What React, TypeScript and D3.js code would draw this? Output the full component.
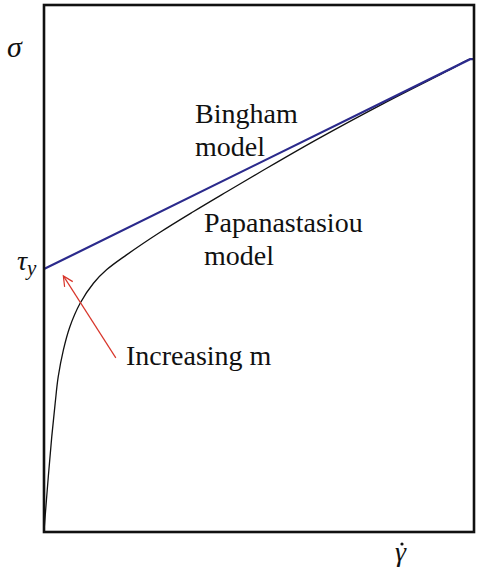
import React, { useEffect, useRef } from "react";
import * as d3 from "d3";

// Shear rate (normalised) and shear stress (normalised) for the two models
const binghamGamma = [0, 0.991, 1.0];
const binghamSigma = [0.498, 0.897, 0.897];

const papaGamma = [0, 0.01, 0.018, 0.026, 0.033, 0.045, 0.06, 0.084, 0.115, 0.146, 0.192, 0.27, 0.347, 0.425, 0.502, 0.634, 0.788, 0.944, 0.991, 1.0];
const papaSigma = [0, 0.103, 0.179, 0.243, 0.293, 0.344, 0.388, 0.433, 0.471, 0.497, 0.525, 0.568, 0.607, 0.645, 0.682, 0.744, 0.812, 0.877, 0.897, 0.897];

// Annotation arrow: tail and tip in data units
const arrowTail = [0.167, 0.329];
const arrowTip = [0.045, 0.485];

// Text labels: [text, x, y]
const modelLabels: [string, number, number][] = [
  ["Bingham", 195, 123],
  ["model", 195, 156],
  ["Papanastasiou", 204, 232],
  ["model", 204, 265],
  ["Increasing m", 126, 365],
];

const W = 478;
const H = 571;
const SERIF = '"Liberation Serif", "Times New Roman", Times, serif';

export default function App() {
  const ref = useRef<SVGSVGElement | null>(null);

  useEffect(() => {
    const svg = d3.select(ref.current);
    svg.selectAll("*").remove();

    const x = d3.scaleLinear().domain([0, 1]).range([44, 474]);
    const y = d3.scaleLinear().domain([0, 1]).range([531, 5]);

    svg.append("rect").attr("width", W).attr("height", H).attr("fill", "#fff");

    const line = d3
      .line<[number, number]>()
      .x((d) => x(d[0]))
      .y((d) => y(d[1]));
    const smooth = d3
      .line<[number, number]>()
      .x((d) => x(d[0]))
      .y((d) => y(d[1]))
      .curve(d3.curveCatmullRom.alpha(0.5));

    const bingham = binghamGamma.map((g, i) => [g, binghamSigma[i]] as [number, number]);
    const papa = papaGamma.map((g, i) => [g, papaSigma[i]] as [number, number]);

    // Papanastasiou curve
    svg.append("path").attr("d", smooth(papa)).attr("fill", "none").attr("stroke", "#111").attr("stroke-width", 1.3);
    // Bingham line
    svg.append("path").attr("d", line(bingham)).attr("fill", "none").attr("stroke", "#2b2a8c").attr("stroke-width", 2.2);

    // Frame
    const [x0, x1] = x.range();
    const [yb, yt] = y.range();
    svg
      .append("rect")
      .attr("x", x0)
      .attr("y", yt)
      .attr("width", x1 - x0)
      .attr("height", yb - yt + 1)
      .attr("fill", "none")
      .attr("stroke", "#111")
      .attr("stroke-width", 2.6);

    // Arrow
    const tx = x(arrowTip[0]);
    const ty = y(arrowTip[1]);
    const sx = x(arrowTail[0]);
    const sy = y(arrowTail[1]);
    const ang = Math.atan2(ty - sy, tx - sx);
    const headLen = 11;
    const spread = (26 * Math.PI) / 180;
    svg.append("line").attr("x1", sx).attr("y1", sy).attr("x2", tx).attr("y2", ty).attr("stroke", "#d8352a").attr("stroke-width", 1.2);
    svg
      .append("polyline")
      .attr(
        "points",
        [
          [tx - headLen * Math.cos(ang - spread), ty - headLen * Math.sin(ang - spread)],
          [tx, ty],
          [tx - headLen * Math.cos(ang + spread), ty - headLen * Math.sin(ang + spread)],
        ]
          .map((p) => p.join(","))
          .join(" ")
      )
      .attr("fill", "none")
      .attr("stroke", "#d8352a")
      .attr("stroke-width", 1.2);

    // Labels
    const addText = (t: string, px: number, py: number, size: number, italic = false) =>
      svg
        .append("text")
        .attr("x", px)
        .attr("y", py)
        .attr("font-family", SERIF)
        .attr("font-size", size)
        .attr("font-style", italic ? "italic" : "normal")
        .attr("fill", "#111")
        .text(t);

    modelLabels.forEach(([t, px, py]) => addText(t, px, py, 28));
    addText("σ", 7, 57, 30, true);
    const tau = addText("τ", 17, 270, 28, true);
    tau.append("tspan").attr("font-size", 21).attr("dy", 5).text("y");
    addText("γ", 395, 561, 28, true);
    svg.append("circle").attr("cx", 402).attr("cy", 544).attr("r", 1.6).attr("fill", "#111");
  }, []);

  return (
    <svg
      ref={ref}
      width={W}
      height={H}
      style={{ position: "absolute", left: 0, top: 0, background: "#fff", fontFamily: SERIF }}
    />
  );
}
